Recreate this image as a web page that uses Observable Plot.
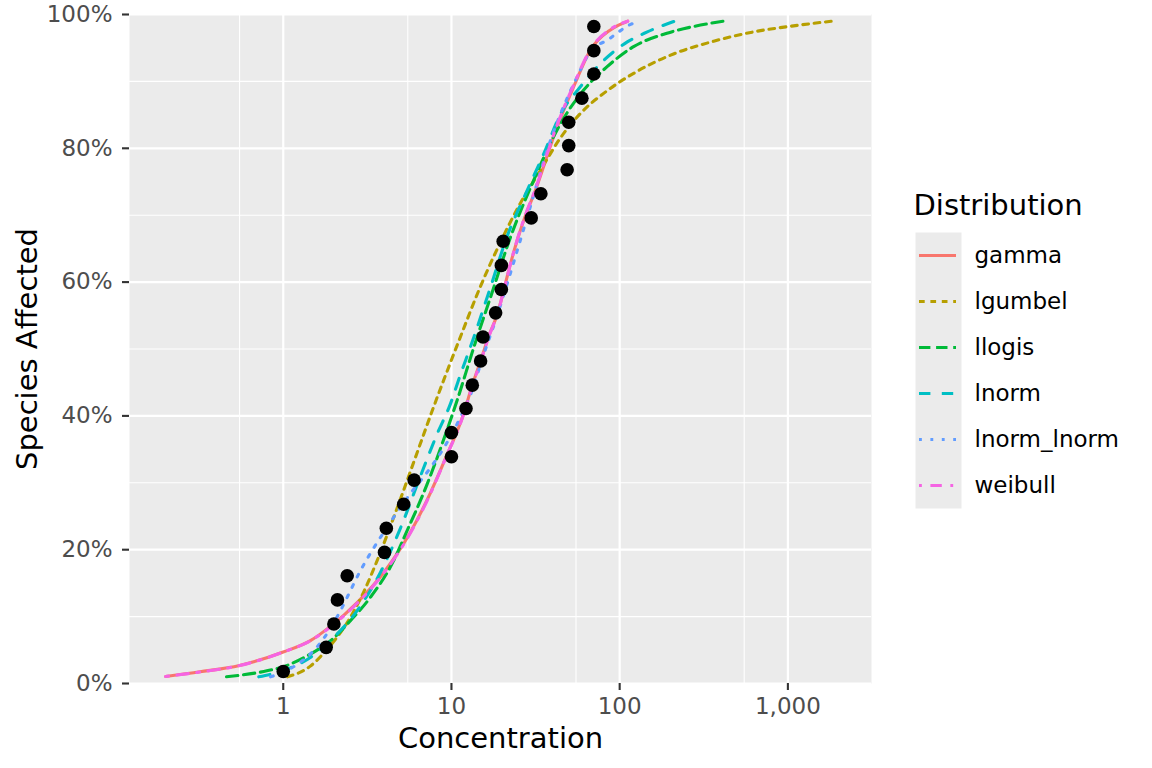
<!DOCTYPE html>
<html>
<head>
<meta charset="utf-8">
<script src="https://cdn.jsdelivr.net/npm/d3@7"></script>
<script src="https://cdn.jsdelivr.net/npm/@observablehq/plot@0.6"></script>
<style>
  body { margin: 0; background: #ffffff; font-family: "DejaVu Sans", sans-serif; }
  #wrap { position: relative; width: 1152px; height: 768px; }
  #legend { position: absolute; left: 900px; top: 180px; }
</style>
</head>
<body>
<div id="wrap"><div id="main"></div><div id="legend"></div></div>
<script>
// ---- Data ----
const distributions = ["gamma", "lgumbel", "llogis", "lnorm", "lnorm_lnorm", "weibull"];
const colors = ["#F8766D", "#B79F00", "#00BA38", "#00BFC4", "#619CFF", "#F564E3"];

const gammaX = [0.2, 0.32, 0.55, 1.0, 1.45, 1.9, 2.75, 3.96, 5.7, 7.5, 9.2, 11.8, 13.3, 14.9, 16.7, 18.8, 20.5, 22.3, 24.5, 27.3, 31, 42.5, 53.3, 67, 88.1, 111.7];
const gammaY = [0.0105, 0.0175, 0.027, 0.047, 0.064, 0.085, 0.121, 0.166, 0.226, 0.285, 0.336, 0.403, 0.446, 0.482, 0.52, 0.553, 0.589, 0.625, 0.661, 0.697, 0.732, 0.832, 0.892, 0.947, 0.977, 0.99];

const lgumbelX = [1.06, 1.45, 1.82, 2.4, 3.01, 3.62, 4.75, 6.25, 7.85, 9.2, 11.3, 14.9, 19.5, 25.7, 33.8, 44.3, 58.4, 84.2, 121, 209, 362, 624, 1080, 1822];
const lgumbelY = [0.01, 0.026, 0.051, 0.091, 0.137, 0.184, 0.262, 0.345, 0.414, 0.46, 0.518, 0.594, 0.659, 0.718, 0.767, 0.815, 0.852, 0.886, 0.912, 0.941, 0.96, 0.974, 0.983, 0.99];

const llogisX = [0.46, 0.766, 1.0, 1.45, 1.91, 2.51, 3.3, 4.54, 5.2, 7.17, 9.0, 10.8, 13.6, 17.1, 22.5, 30.8, 44.3, 61.1, 84.2, 121, 191, 274, 411];
const llogisY = [0.01, 0.018, 0.025, 0.044, 0.064, 0.094, 0.129, 0.184, 0.217, 0.298, 0.365, 0.423, 0.503, 0.578, 0.668, 0.752, 0.836, 0.887, 0.922, 0.952, 0.972, 0.982, 0.99];

const lnormX = [0.715, 1.0, 1.45, 2.09, 2.88, 3.78, 4.97, 6.54, 8.22, 9.86, 11.0, 13.6, 17.1, 21.4, 28.2, 35.4, 44.3, 58.4, 77.1, 111, 146, 212];
const lnormY = [0.01, 0.0194, 0.039, 0.074, 0.116, 0.166, 0.232, 0.31, 0.373, 0.418, 0.453, 0.518, 0.593, 0.668, 0.737, 0.792, 0.85, 0.892, 0.927, 0.959, 0.974, 0.99];

const lnormLnormX = [0.84, 1.1, 1.7, 2.19, 2.51, 2.88, 3.38, 3.96, 4.75, 5.7, 6.84, 7.68, 9.0, 11.3, 13.0, 15.6, 18.3, 24.0, 28.2, 38.8, 55.9, 67, 86.1, 97.4, 111.7, 129];
const lnormLnormY = [0.01, 0.022, 0.064, 0.109, 0.139, 0.169, 0.199, 0.226, 0.256, 0.284, 0.309, 0.326, 0.352, 0.398, 0.432, 0.493, 0.543, 0.638, 0.697, 0.812, 0.907, 0.945, 0.963, 0.973, 0.983, 0.99];

const weibullX = [0.2, 0.32, 0.55, 1.0, 1.45, 1.9, 2.75, 3.96, 5.7, 7.5, 9.2, 11.8, 13.3, 14.9, 16.7, 18.8, 20.5, 22.3, 24.5, 27.3, 31, 42.5, 53.3, 67, 88.1, 111.7];
const weibullY = [0.0105, 0.0172, 0.0268, 0.047, 0.064, 0.084, 0.12, 0.165, 0.225, 0.284, 0.336, 0.402, 0.445, 0.481, 0.519, 0.553, 0.588, 0.625, 0.662, 0.698, 0.734, 0.835, 0.895, 0.948, 0.978, 0.99];

const pointX = [1.0, 1.8, 2.0, 2.1, 2.4, 4.0, 4.1, 5.2, 6.0, 10, 10, 12.2, 13.3, 14.9, 15.4, 18.3, 19.8, 19.8, 20.3, 29.8, 34, 48.7, 49.8, 49.8, 59.6, 70.2, 70.2, 70.2];
const pointY = [0.018, 0.054, 0.089, 0.125, 0.161, 0.196, 0.232, 0.268, 0.304, 0.339, 0.375, 0.411, 0.446, 0.482, 0.518, 0.554, 0.589, 0.625, 0.661, 0.696, 0.732, 0.768, 0.804, 0.839, 0.875, 0.911, 0.946, 0.982];

const xTicks = [1, 10, 100, 1000];
const xMinor = [0.55, 5.5, 55, 550];
const yTicks = [0, 0.2, 0.4, 0.6, 0.8, 1.0];
const yMinor = [0.1, 0.3, 0.5, 0.7, 0.9];

// ---- Build tables ----
const curveArrays = {
  gamma: [gammaX, gammaY],
  lgumbel: [lgumbelX, lgumbelY],
  llogis: [llogisX, llogisY],
  lnorm: [lnormX, lnormY],
  lnorm_lnorm: [lnormLnormX, lnormLnormY],
  weibull: [weibullX, weibullY]
};
const u = 2.85;
const dashes = {
  gamma: undefined,
  lgumbel: `${2*u},${2*u}`,
  llogis: `${4*u},${2*u}`,
  lnorm: `${4*u},${4*u}`,
  lnorm_lnorm: `${1*u},${3*u}`,
  weibull: `${1*u},${3*u},${4*u},${3*u}`
};
const rows = distributions.flatMap(d => curveArrays[d][0].map((x, i) => ({dist: d, x, y: curveArrays[d][1][i]})));
const pts = pointX.map((x, i) => ({x, y: pointY[i]}));

const font = '"DejaVu Sans", sans-serif';
const lw = 3.1;

const main = Plot.plot({
  width: 1152,
  height: 768,
  marginLeft: 129,
  marginRight: 281,
  marginTop: 14,
  marginBottom: 85,
  style: {fontFamily: font, background: "white", overflow: "visible"},
  x: {type: "log", domain: [0.1219, 3141]},
  y: {domain: [0, 1]},
  color: {domain: distributions, range: colors},
  marks: [
    Plot.frame({fill: "#EBEBEB"}),
    Plot.ruleX(xMinor, {stroke: "white", strokeWidth: 1.1}),
    Plot.ruleY(yMinor, {stroke: "white", strokeWidth: 1.1}),
    Plot.ruleX(xTicks, {stroke: "white", strokeWidth: 2.2}),
    Plot.ruleY(yTicks, {stroke: "white", strokeWidth: 2.2}),
    Plot.axisX({ticks: xTicks, tickFormat: d3.format(","), tickSize: 7, tickPadding: 7, fontSize: 23, fill: "#4D4D4D", stroke: "#333333", strokeWidth: 2.1, label: null}),
    Plot.axisY({ticks: yTicks, tickFormat: d3.format(".0%"), tickSize: 7, tickPadding: 10, fontSize: 23, fill: "#4D4D4D", stroke: "#333333", strokeWidth: 2.1, label: null}),
    ...distributions.map(d => Plot.line(rows.filter(r => r.dist === d), {
      x: "x", y: "y", stroke: "dist", strokeWidth: lw, strokeDasharray: dashes[d], curve: "monotone-x"
    })),
    Plot.dot(pts, {x: "x", y: "y", r: 6.8, fill: "black"}),
    Plot.text(["Concentration"], {frameAnchor: "bottom", textAnchor: "middle", lineAnchor: "middle", dy: 55, fontSize: 29, fill: "black"}),
    Plot.text(["Species Affected"], {frameAnchor: "left", textAnchor: "middle", lineAnchor: "middle", dx: -102, rotate: -90, fontSize: 29, fill: "black"})
  ]
});
document.getElementById("main").appendChild(main);

const legend = Plot.plot({
  width: 252,
  height: 340,
  marginLeft: 15,
  marginRight: 191,
  marginTop: 52,
  marginBottom: 12,
  style: {fontFamily: font, background: "transparent", overflow: "visible"},
  x: {type: "identity", axis: null},
  y: {type: "point", domain: distributions, padding: 0.5, axis: null},
  color: {domain: distributions, range: colors},
  marks: [
    Plot.frame({fill: "#EBEBEB"}),
    ...distributions.map(d => Plot.ruleY([d], {y: v => v, x1: 19, x2: 56, stroke: v => v, strokeWidth: lw, strokeDasharray: dashes[d]})),
    Plot.text(distributions, {x: 74, y: v => v, text: v => v, textAnchor: "start", lineAnchor: "middle", fontSize: 23, fill: "black"}),
    Plot.text(["Distribution"], {frameAnchor: "top-left", textAnchor: "start", lineAnchor: "middle", dx: -2, dy: -27, fontSize: 29, fill: "black"})
  ]
});
document.getElementById("legend").appendChild(legend);
</script>
</body>
</html>
